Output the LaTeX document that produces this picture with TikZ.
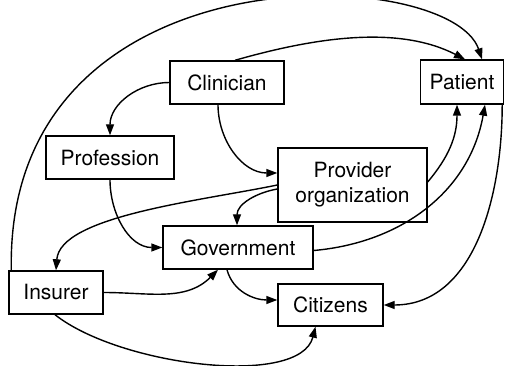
\documentclass[tikz,border=0pt]{standalone}
\usepackage{fontspec}
\setmainfont{TeX Gyre Heros}
\usetikzlibrary{arrows.meta,calc}

\begin{document}
\begin{tikzpicture}[x=1pt,y=1pt,
         actor/.style = {draw,line width=1.4pt,minimum height=43pt,inner sep=0pt,
            font=\fontsize{21}{25}\selectfont},
         link/.style = {line width=1.4pt,-{Triangle[length=11pt,width=8pt]}}
]
   \useasboundingbox (0,0) rectangle (505,366);

   \node[actor,minimum width=114pt] (cli) at (227,283.5) {Clinician};
   \node[actor,minimum width=83pt,minimum height=44pt] (pat) at (462,284) {Patient};
   \node[actor,minimum width=128pt] (prf) at (110,208.5) {Profession};
   \node[actor,minimum width=149pt,minimum height=74pt,align=center] (prv) at (352.5,181)
      {Provider\\organization};
   \node[actor,minimum width=150pt] (gov) at (238,118.5) {Government};
   \node[actor,minimum width=94pt] (ins) at (56,73.5) {Insurer};
   \node[actor,minimum width=105pt,minimum height=42pt] (cit) at (330.5,61) {Citizens};

   % outer arcs
   \draw[link] ($(ins.north west)+(3,0)$) .. controls (5,422) and (450,402) .. ($(pat.north)+(20,0)$);
   \draw[link] ($(ins.south)+(-1,0)$) .. controls (120,0) and (300,-22) .. ($(cit.south)+(-15,0)$);
   \draw[link] ($(pat.south east)+(-2,0)$) to[out=-90,in=0] (cit.east);

   % from the clinician
   \draw[link] ($(cli.north)+(8,0)$) .. controls (320,330) and (400,340) .. ($(pat.north)+(3,0)$);
   \draw[link] (cli.west) to[out=180,in=90] (prf.north);
   \draw[link] ($(cli.south)+(-9,0)$) to[out=-90,in=180] ($(prv.west)+(0,12)$);

   % from the provider
   \draw[link] ($(prv.east)+(0,3)$) to[out=50,in=-90] ($(pat.south)+(-5,0)$);
   \draw[link] (prv.west) .. controls (200,165) and (60,150) .. (ins.north);
   \draw[link] ($(prv.west)+(0,-4)$) to[out=190,in=90] ($(gov.north)+(-1,0)$);

   % into and out of government
   \draw[link] (prf.south) to[out=-90,in=180] (gov.west);
   \draw[link] ($(gov.east)+(0,-3)$) to[out=5,in=-100] ($(pat.south)+(23,0)$);
   \draw[link] (ins.east) to[out=0,in=-135] ($(gov.south)+(-20,0)$);
   \draw[link] ($(gov.south)+(-11,0)$) to[out=-75,in=180] ($(cit.west)+(0,5)$);
\end{tikzpicture}
\end{document}
